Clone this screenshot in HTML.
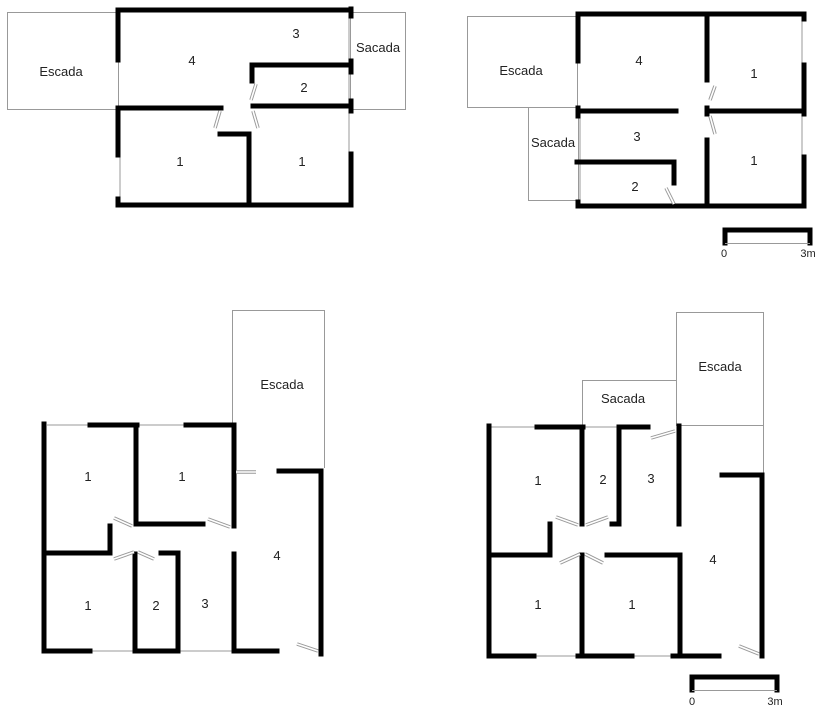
<!DOCTYPE html>
<html><head><meta charset="utf-8"><style>
html,body{margin:0;padding:0;background:#fff;}
svg{display:block;}
text{font-family:"Liberation Sans",sans-serif;font-size:13px;fill:#222;text-anchor:middle;}
.w{stroke:#000;stroke-width:5;stroke-linecap:square;fill:none;}
.t{stroke:#999;stroke-width:1;fill:none;}
.d{stroke:#999;stroke-width:3.5;stroke-linecap:butt;}
.di{stroke:#fff;stroke-width:1.6;}
</style></head><body>
<svg width="823" height="716" viewBox="0 0 823 716" xmlns="http://www.w3.org/2000/svg">
<!-- ===== Plan 1 ===== -->
<rect class="t" x="7.5" y="12.5" width="111" height="97"/>
<rect class="t" x="350.5" y="12.5" width="55" height="97"/>
<line class="t" x1="349" y1="17" x2="349" y2="200"/>
<line class="t" x1="120" y1="156" x2="120" y2="200"/>
<g class="w">
<polyline points="118,60 118,10 350,10"/>
<line x1="351" y1="9" x2="351" y2="16"/>
<line x1="351" y1="61" x2="351" y2="72"/>
<line x1="351" y1="101" x2="351" y2="111"/>
<polyline points="252,81 252,65 350,65"/>
<line x1="253" y1="106" x2="350" y2="106"/>
<polyline points="118,155 118,108 221,108"/>
<polyline points="118,199 118,205 351,205 351,154"/>
<polyline points="220,134 249,134 249,204"/>
</g>
<g><line class="d" x1="220" y1="111" x2="215" y2="128"/><line class="di" x1="220" y1="111" x2="215" y2="128"/>
<line class="d" x1="256" y1="84" x2="251" y2="100"/><line class="di" x1="256" y1="84" x2="251" y2="100"/>
<line class="d" x1="253" y1="111" x2="258" y2="128"/><line class="di" x1="253" y1="111" x2="258" y2="128"/></g>
<text x="61" y="76">Escada</text><text x="192" y="65">4</text><text x="296" y="38">3</text>
<text x="378" y="52">Sacada</text><text x="304" y="92">2</text><text x="180" y="166">1</text><text x="302" y="166">1</text>

<!-- ===== Plan 2 ===== -->
<rect class="t" x="467.5" y="16.5" width="110" height="91"/>
<rect class="t" x="528.5" y="107.5" width="50" height="93"/>
<line class="t" x1="580" y1="118" x2="580" y2="200"/>
<line class="t" x1="802" y1="18" x2="802" y2="155"/>
<g class="w">
<polyline points="578,61 578,14 804,14 804,19"/>
<line x1="707" y1="15" x2="707" y2="80"/>
<line x1="804" y1="65" x2="804" y2="114"/>
<line x1="804" y1="157" x2="804" y2="206"/>
<line x1="578" y1="108" x2="578" y2="116"/>
<line x1="578" y1="111" x2="676" y2="111"/>
<line x1="707" y1="108" x2="707" y2="114"/>
<line x1="707" y1="111" x2="803" y2="111"/>
<line x1="707" y1="140" x2="707" y2="206"/>
<polyline points="577,162 674,162 674,183"/>
<polyline points="578,202 578,206 804,206"/>
</g>
<g><line class="d" x1="715" y1="86" x2="710" y2="100"/><line class="di" x1="715" y1="86" x2="710" y2="100"/>
<line class="d" x1="710" y1="116" x2="715" y2="134"/><line class="di" x1="710" y1="116" x2="715" y2="134"/>
<line class="d" x1="666" y1="188" x2="674" y2="204"/><line class="di" x1="666" y1="188" x2="674" y2="204"/></g>
<text x="521" y="75">Escada</text><text x="639" y="65">4</text><text x="754" y="78">1</text>
<text x="637" y="141">3</text><text x="553" y="147">Sacada</text><text x="635" y="191">2</text><text x="754" y="165">1</text>
<polyline class="w" points="725,243 725,230 810,230 810,243"/>
<line class="t" x1="725" y1="243.5" x2="810" y2="243.5"/>
<text x="724" y="257" style="font-size:11px">0</text><text x="808" y="257" style="font-size:11px">3m</text>

<!-- ===== Plan 3 ===== -->
<polyline class="t" points="232.5,423 232.5,310.5 324.5,310.5 324.5,468"/>
<line class="t" x1="47" y1="425" x2="88" y2="425"/>
<line class="t" x1="139" y1="425" x2="185" y2="425"/>
<line class="t" x1="91" y1="651" x2="135" y2="651"/>
<line class="t" x1="178" y1="651" x2="234" y2="651"/>
<g class="w">
<line x1="44" y1="424" x2="44" y2="651"/>
<line x1="90" y1="425" x2="137" y2="425"/>
<line x1="186" y1="425" x2="234" y2="425"/>
<polyline points="136,425 136,524 203,524"/>
<line x1="234" y1="425" x2="234" y2="526"/>
<polyline points="110,526 110,553 45,553"/>
<line x1="135" y1="554" x2="135" y2="651"/>
<polyline points="161,553 178,553 178,651"/>
<line x1="234" y1="554" x2="234" y2="651"/>
<polyline points="44,651 90,651"/>
<line x1="136" y1="651" x2="177" y2="651"/>
<line x1="235" y1="651" x2="277" y2="651"/>
<polyline points="279,471 321,471 321,654"/>
</g>
<g><line class="d" x1="114" y1="518" x2="132" y2="526"/><line class="di" x1="114" y1="518" x2="132" y2="526"/>
<line class="d" x1="208" y1="519" x2="230" y2="527"/><line class="di" x1="208" y1="519" x2="230" y2="527"/>
<line class="d" x1="114" y1="559" x2="134" y2="552"/><line class="di" x1="114" y1="559" x2="134" y2="552"/>
<line class="d" x1="138" y1="552" x2="154" y2="559"/><line class="di" x1="138" y1="552" x2="154" y2="559"/>
<line class="d" x1="236" y1="472" x2="256" y2="472"/><line class="di" x1="236" y1="472" x2="256" y2="472"/>
<line class="d" x1="297" y1="644" x2="318" y2="651"/><line class="di" x1="297" y1="644" x2="318" y2="651"/></g>
<text x="282" y="389">Escada</text><text x="88" y="481">1</text><text x="182" y="481">1</text>
<text x="277" y="560">4</text><text x="88" y="610">1</text><text x="156" y="610">2</text><text x="205" y="608">3</text>

<!-- ===== Plan 4 ===== -->
<rect class="t" x="676.5" y="312.5" width="87" height="113"/>
<line class="t" x1="763.5" y1="425" x2="763.5" y2="474"/>
<polyline class="t" points="582.5,427 582.5,380.5 676.5,380.5"/>
<line class="t" x1="490" y1="427" x2="535" y2="427"/>
<line class="t" x1="583" y1="427" x2="617" y2="427"/>
<line class="t" x1="535" y1="656" x2="577" y2="656"/>
<line class="t" x1="633" y1="656" x2="672" y2="656"/>
<g class="w">
<line x1="489" y1="426" x2="489" y2="656"/>
<line x1="537" y1="427" x2="583" y2="427"/>
<polyline points="648,427 619,427 619,524 612,524"/>
<line x1="582" y1="427" x2="582" y2="524"/>
<line x1="679" y1="426" x2="679" y2="524"/>
<polyline points="550,524 550,555 490,555"/>
<line x1="582" y1="555" x2="582" y2="656"/>
<polyline points="607,555 680,555 680,656"/>
<line x1="489" y1="656" x2="534" y2="656"/>
<line x1="578" y1="656" x2="632" y2="656"/>
<line x1="673" y1="656" x2="719" y2="656"/>
<polyline points="722,475 762,475 762,656"/>
</g>
<g><line class="d" x1="556" y1="517" x2="578" y2="525"/><line class="di" x1="556" y1="517" x2="578" y2="525"/>
<line class="d" x1="586" y1="525" x2="608" y2="517"/><line class="di" x1="586" y1="525" x2="608" y2="517"/>
<line class="d" x1="560" y1="563" x2="580" y2="554"/><line class="di" x1="560" y1="563" x2="580" y2="554"/>
<line class="d" x1="585" y1="554" x2="603" y2="563"/><line class="di" x1="585" y1="554" x2="603" y2="563"/>
<line class="d" x1="651" y1="438" x2="675" y2="431"/><line class="di" x1="651" y1="438" x2="675" y2="431"/>
<line class="d" x1="739" y1="646" x2="759" y2="654"/><line class="di" x1="739" y1="646" x2="759" y2="654"/></g>
<text x="720" y="371">Escada</text><text x="623" y="403">Sacada</text><text x="538" y="485">1</text>
<text x="603" y="484">2</text><text x="651" y="483">3</text><text x="713" y="564">4</text>
<text x="538" y="609">1</text><text x="632" y="609">1</text>
<polyline class="w" points="692,690 692,677 777,677 777,690"/>
<line class="t" x1="692" y1="690.5" x2="777" y2="690.5"/>
<text x="692" y="705" style="font-size:11px">0</text><text x="775" y="705" style="font-size:11px">3m</text>
</svg>
</body></html>
